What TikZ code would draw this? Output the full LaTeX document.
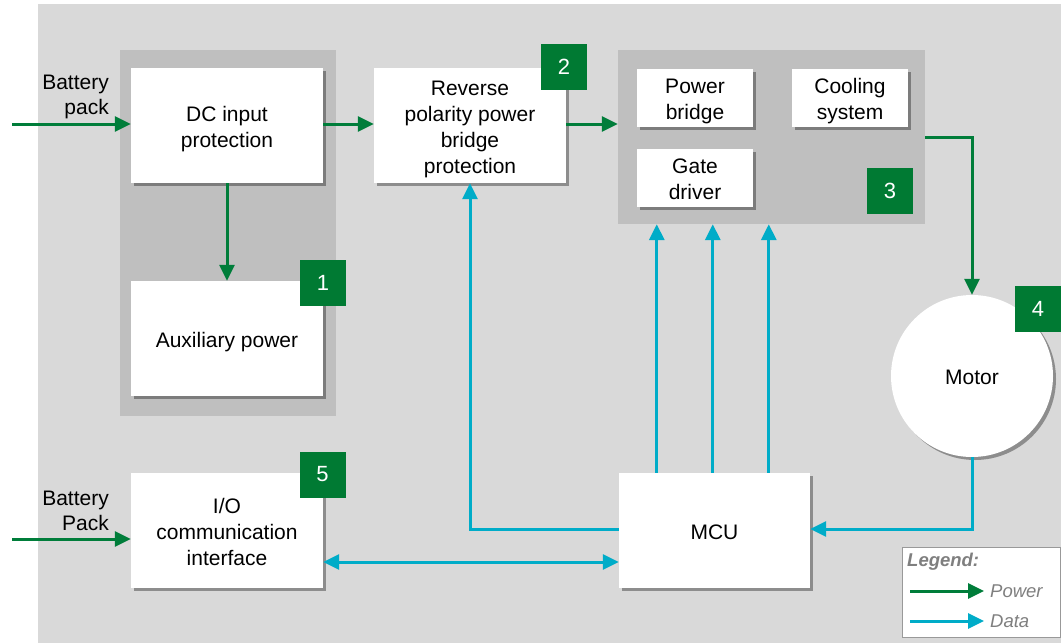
\documentclass[tikz,border=0pt]{standalone}
\usepackage{fontspec}
\setmainfont{Liberation Sans}
\usetikzlibrary{arrows.meta,calc,shadows,positioning}
\definecolor{pgreen}{RGB}{0,125,58}
\definecolor{bgreen}{RGB}{0,122,51}
\definecolor{dcyan}{RGB}{0,172,200}
\definecolor{bggray}{RGB}{217,217,217}
\definecolor{grpgray}{RGB}{191,191,191}
\definecolor{leggray}{RGB}{127,127,127}
% text block pushed down by half of (#1 - 18.2pt)
\newcommand\tbx[2]{\begin{tabular}{@{}c@{}}\rule{0pt}{#1}#2\end{tabular}}
\tikzset{
  box/.style={draw=none, fill=white, align=center, inner sep=0pt,
    font=\fontsize{21}{26}\selectfont,
    drop shadow={shadow xshift=3pt, shadow yshift=-3pt, opacity=0.35, fill=black}},
  smallbox/.style={box, minimum width=116, minimum height=58},
  bigbox/.style={box, minimum width=192, minimum height=115},
  grp/.style={draw=none, fill=grpgray, inner sep=0pt},
  badge/.style={fill=bgreen, text=white, minimum width=46, minimum height=46, inner sep=0pt,
    font=\fontsize{22}{22}\selectfont},
  pw/.style={draw=pgreen, line width=3pt, -{Triangle[length=16pt,width=15pt]}},
  dt/.style={draw=dcyan, line width=3pt, -{Triangle[length=16pt,width=15pt]}},
  dtboth/.style={draw=dcyan, line width=3pt, {Triangle[length=16pt,width=15pt]}-{Triangle[length=16pt,width=15pt]}},
  lbl/.style={align=right, inner sep=0pt, font=\fontsize{21}{25}\selectfont},
  legtxt/.style={anchor=west, inner sep=0pt, text=leggray, font=\fontsize{18.5}{18.5}\selectfont\itshape},
}
\begin{document}
\begin{tikzpicture}[x=1pt,y=-1pt]
\useasboundingbox (0,0) rectangle (1061,643);
\fill[white] (0,0) rectangle (1061,643);
\fill[bggray] (38,4) rectangle (1061,643);

% groups
\node[grp, minimum width=216, minimum height=366] (g1) at (228,233) {};
\node[grp, minimum width=307, minimum height=174] (g3) at (771.5,137) {};

% boxes
\node[bigbox] (dc) at (227,125.5) {\tbx{26.2pt}{DC input\\protection}};
\node[bigbox] (aux) at (227,338.5) {\tbx{26.2pt}{Auxiliary power}};
\node[bigbox] (rev) at (470,125.5) {\tbx{26.2pt}{Reverse\\polarity power\\bridge\\protection}};
\node[smallbox] (pb) at (695,98) {\tbx{24.2pt}{Power\\bridge}};
\node[smallbox] (cs) at (850,98) {\tbx{24.2pt}{Cooling\\system}};
\node[smallbox] (gd) at (695,178) {\tbx{24.2pt}{Gate\\driver}};
\node[bigbox] (io) at (227,530.5) {\tbx{26.2pt}{I/O\\communication\\interface}};
\node[bigbox, minimum width=191] (mcu) at (714.5,530.5) {\tbx{26.2pt}{MCU}};
\node[box, circle, minimum size=162] (motor) at (972,376) {\tbx{24.6pt}{Motor}};

% badges
\node[badge] (b1) at (323,283) {1};
\node[badge] (b2) at (564,67) {2};
\node[badge] (b3) at (890,191) {3};
\node[badge] (b4) at (1038,308.5) {4};
\node[badge] (b5) at (322.5,474.5) {5};

% inputs
\coordinate (in1) at (12,124);
\coordinate (in2) at (12,539);
\node[lbl, anchor=east] (l1) at (109,97) {Battery\\pack};
\node[lbl, anchor=east] (l2) at (109,511) {Battery\\Pack};
\draw[pw] (in1) -- (in1 -| dc.west);
\draw[pw] (in2) -- (in2 -| io.west);

% power
\coordinate (r1) at ($(rev.east)+(0,-1.5)$);
\draw[pw] ($(dc.east)+(0,-1.5)$) -- ($(rev.west)+(0,-1.5)$);
\draw[pw] (r1) -- (r1 -| g3.west);
\draw[pw] (dc.south) -- (aux.north);
\draw[pw] (g3.east) -| (motor.north);

% data
\coordinate (me) at ($(mcu.east)+(0,-1.5)$);
\coordinate (mw) at ($(mcu.west)+(0,-1.5)$);
\draw[dt] (motor.south) |- (me);
\draw[dt] (mw) -| (rev.south);
\foreach \dx/\nm in {38/a,94/b,150/c}{
  \coordinate (m\nm) at ($(mcu.north west)+(\dx,0)$);
  \draw[dt] (m\nm) -- (m\nm |- g3.south);
}
\coordinate (ioe) at ($(io.east)+(0,31.5)$);
\draw[dtboth] (ioe) -- (ioe -| mcu.west);

% legend
\node[draw=leggray!80, line width=0.8pt, fill=white, minimum width=158, minimum height=90, inner sep=0pt] (leg) at (981,592) {};
\node[legtxt, font=\fontsize{18.5}{18.5}\selectfont\bfseries\itshape] (legt) at (907,562) {Legend:};
\coordinate (lp) at (910,591);
\coordinate (ld) at (910,621);
\node[legtxt] (lpt) at (990,591) {Power};
\node[legtxt] (ldt) at (990,621) {Data};
\draw[pw] (lp) -- (lp -| 984,0);
\draw[dt] (ld) -- (ld -| 984,0);
\end{tikzpicture}
\end{document}
